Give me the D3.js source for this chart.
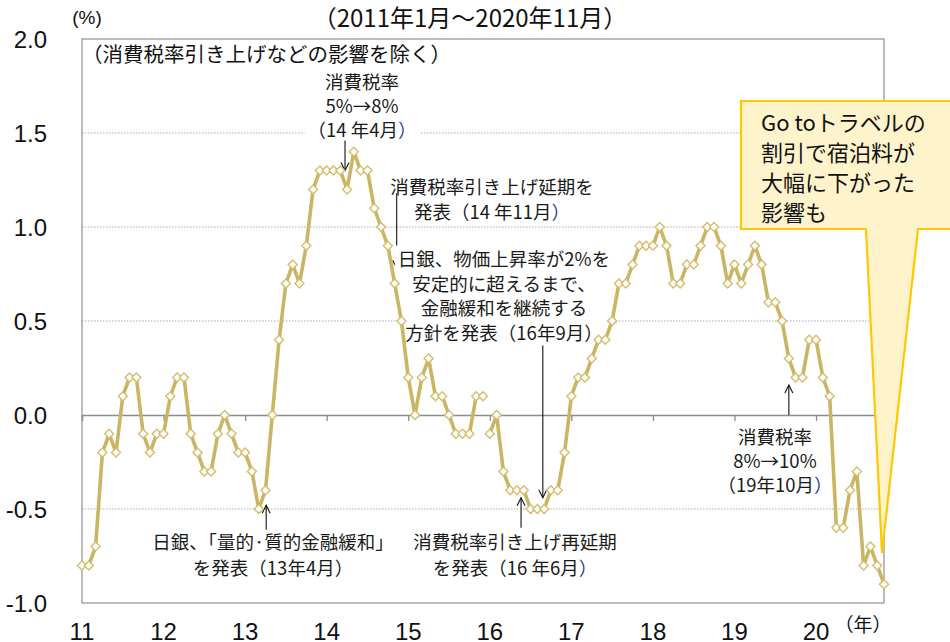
<!DOCTYPE html>
<html>
<head>
<meta charset="utf-8">
<script src="https://cdn.jsdelivr.net/npm/d3@7"></script>
<style>
  html, body { margin: 0; padding: 0; background: #fff; }
  svg { display: block; }
</style>
</head>
<body>
<svg id="chart"></svg>
<script>
// 消費者物価（生鮮食品を除く総合）前年比、2011年1月～2020年11月
const startYear = 2011;
const values2011 = [-0.8, -0.8, -0.7, -0.2, -0.1, -0.2, 0.1, 0.2, 0.2, -0.1, -0.2, -0.1];
const values2012 = [-0.1, 0.1, 0.2, 0.2, -0.1, -0.2, -0.3, -0.3, -0.1, 0.0, -0.1, -0.2];
const values2013 = [-0.2, -0.3, -0.5, -0.4, 0.0, 0.4, 0.7, 0.8, 0.7, 0.9, 1.2, 1.3];
const values2014 = [1.3, 1.3, 1.3, 1.2, 1.4, 1.3, 1.3, 1.1, 1.0, 0.9, 0.7, 0.5];
const values2015 = [0.2, 0.0, 0.2, 0.3, 0.1, 0.1, 0.0, -0.1, -0.1, -0.1, 0.1, 0.1];
const values2016 = [-0.1, 0.0, -0.3, -0.4, -0.4, -0.4, -0.5, -0.5, -0.5, -0.4, -0.4, -0.2];
const values2017 = [0.1, 0.2, 0.2, 0.3, 0.4, 0.4, 0.5, 0.7, 0.7, 0.8, 0.9, 0.9];
const values2018 = [0.9, 1.0, 0.9, 0.7, 0.7, 0.8, 0.8, 0.9, 1.0, 1.0, 0.9, 0.7];
const values2019 = [0.8, 0.7, 0.8, 0.9, 0.8, 0.6, 0.6, 0.5, 0.3, 0.2, 0.2, 0.4];
const values2020 = [0.4, 0.2, 0.1, -0.6, -0.6, -0.4, -0.3, -0.8, -0.7, -0.8, -0.9];

// 2015年基準への改定で、15年12月と16年1月の間は線をつながない
const segmentStarts = [2011, 2016];

const yearLabels = ['11', '12', '13', '14', '15', '16', '17', '18', '19', '20'];
const yTicks = [2.0, 1.5, 1.0, 0.5, 0.0, -0.5, -1.0];

const titleText = '（2011年1月～2020年11月）';
const noteText = '（消費税率引き上げなどの影響を除く）';
const calloutLines = ['Go toトラベルの', '割引で宿泊料が', '大幅に下がった', '影響も'];

const allYears = [values2011, values2012, values2013, values2014, values2015,
  values2016, values2017, values2018, values2019, values2020];

const width = 950;
const height = 642;
const margin = { top: 39, right: 66, bottom: 39, left: 82 };

const svg = d3.select('#chart')
    .attr('width', width)
    .attr('height', height)
    .attr('viewBox', `0 0 ${width} ${height}`);

const data = [];
allYears.forEach((vals, yi) => {
  vals.forEach((v, m) => {
    data.push({ i: yi * 12 + m, year: startYear + yi, month: m + 1, value: v });
  });
});

const x = d3.scaleLinear()
    .domain([0, data.length - 1])
    .range([margin.left, 884]);

const y = d3.scaleLinear()
    .domain([-1.0, 2.0])
    .range([height - margin.bottom, margin.top]);

const cjk = '"Noto Sans CJK JP", "Noto Sans", sans-serif';
const num = '"Liberation Sans", Arial, sans-serif';
const gridColor = '#ababab';
const lineColor = '#cbb462';

// gridlines
svg.append('g')
  .selectAll('line')
  .data(yTicks.filter(t => t !== 0 && t !== 2.0 && t !== -1.0))
  .join('line')
    .attr('x1', x.range()[0])
    .attr('x2', x.range()[1])
    .attr('y1', d => y(d))
    .attr('y2', d => y(d))
    .attr('stroke', gridColor)
    .attr('stroke-width', 1)
    .attr('stroke-dasharray', '1.5,1.5');

// frame
svg.append('rect')
    .attr('x', x.range()[0])
    .attr('y', y(2.0))
    .attr('width', x.range()[1] - x.range()[0])
    .attr('height', y(-1.0) - y(2.0))
    .attr('fill', 'none')
    .attr('stroke', '#999')
    .attr('stroke-width', 1.3);

// zero line with year ticks
const xAxis = d3.axisBottom(x)
    .tickValues(d3.range(0, data.length, 12))
    .tickSize(6)
    .tickFormat('');

svg.append('g')
    .attr('transform', `translate(0,${y(0)})`)
    .call(xAxis)
    .call(g => g.selectAll('path, line').attr('stroke', '#8c8c8c').attr('stroke-width', 1.3));

// y labels
svg.append('g')
  .selectAll('text')
  .data(yTicks)
  .join('text')
    .attr('x', 47)
    .attr('y', d => y(d))
    .attr('dy', '0.36em')
    .attr('text-anchor', 'end')
    .attr('font-family', num)
    .attr('font-size', 24)
    .attr('fill', '#111')
    .text(d => d.toFixed(1));

// x labels
svg.append('g')
  .selectAll('text')
  .data(yearLabels)
  .join('text')
    .attr('x', (d, k) => x(k * 12))
    .attr('y', 640)
    .attr('text-anchor', 'middle')
    .attr('font-family', num)
    .attr('font-size', 24)
    .attr('fill', '#111')
    .text(d => d);

svg.append('text')
    .attr('x', 863)
    .attr('y', 632)
    .attr('text-anchor', 'middle')
    .attr('font-family', cjk)
    .attr('font-size', 19)
    .attr('fill', '#111')
    .text('（年）');

svg.append('text')
    .attr('x', 87)
    .attr('y', 24)
    .attr('text-anchor', 'middle')
    .attr('font-family', num)
    .attr('font-size', 19)
    .attr('fill', '#111')
    .text('(%)');

svg.append('text')
    .attr('x', 470)
    .attr('y', 27)
    .attr('text-anchor', 'middle')
    .attr('font-family', cjk)
    .attr('font-size', 24)
    .attr('fill', '#111')
    .text(titleText);

svg.append('text')
    .attr('x', 82)
    .attr('y', 62)
    .attr('font-family', cjk)
    .attr('font-size', 20.5)
    .attr('fill', '#111')
    .text(noteText);

// annotations: text lines, centre position, arrow at month index between two values
const notes = [
  { lines: ['消費税率', '5%→8%', '（14 年4月|）'], cx: 362, top: 83, gap: 24,
    arrow: { i: 38.7, from: 1.46, to: 1.30 }, bg: [2] },
  { lines: ['消費税率引き上げ延期を', '発表（14 年11月|）'], cx: 492, top: 188, gap: 25,
    arrow: { i: 46.3, from: 1.18, to: 0.78 }, bg: [] },
  { lines: ['日銀、物価上昇率が2%を', '安定的に超えるまで、', '金融緩和を継続する', '方針を発表（16年9月）'],
    cx: 504, top: 260, gap: 24.5, arrow: { i: 67.8, from: 0.37, to: -0.44 }, bg: [0, 1, 2, 3] },
  { lines: ['日銀、「量的·質的金融緩和」', 'を発表（13年4月）'], cx: 273, top: 543, gap: 26,
    arrow: { i: 27.1, from: -0.61, to: -0.48 }, bg: [] },
  { lines: ['消費税率引き上げ再延期', 'を発表（16 年6月|）'], cx: 515, top: 543, gap: 26,
    arrow: { i: 64.6, from: -0.60, to: -0.44 }, bg: [] },
  { lines: ['消費税率', '8%→10%', '（19年10月|）'], cx: 775, top: 438, gap: 24,
    arrow: { i: 104, from: 0.0, to: 0.16 }, bg: [] }
];

const noteLayer = svg.append('g');

notes.forEach(n => {
  const g = noteLayer.append('g');
  const bgRects = g.append('g');
  n.lines.forEach((line, k) => {
    const t = g.append('text')
        .attr('x', n.cx)
        .attr('y', n.top + k * n.gap)
        .attr('dy', '0.35em')
        .attr('text-anchor', 'middle')
        .attr('font-family', cjk)
        .attr('font-size', 18.5)
        .attr('fill', '#1a1a1a');
    const parts = line.split('|');
    t.append('tspan').text(parts[0]);
    if (parts.length > 1) t.append('tspan').attr('fill', '#1f3f99').text(parts[1]);
    if (n.bg.includes(k)) {
      const b = t.node().getBBox();
      bgRects.append('rect')
          .attr('x', b.x - 3)
          .attr('y', b.y)
          .attr('width', b.width + 6)
          .attr('height', b.height + 1)
          .attr('fill', '#fff');
    }
  });

  const ax = x(n.arrow.i);
  const y0 = y(n.arrow.from);
  const y1 = y(n.arrow.to);
  const dir = y1 > y0 ? 1 : -1;
  g.append('line')
      .attr('x1', ax).attr('x2', ax)
      .attr('y1', y0).attr('y2', y1)
      .attr('stroke', '#111')
      .attr('stroke-width', 1.1);
  g.append('path')
      .attr('d', `M${ax - 4},${y1 - dir * 8}L${ax},${y1}L${ax + 4},${y1 - dir * 8}`)
      .attr('fill', 'none')
      .attr('stroke', '#111')
      .attr('stroke-width', 1.1);
});

// series
const line = d3.line()
    .x(d => x(d.i))
    .y(d => y(d.value));

const segments = segmentStarts.map((yr, k) => {
  const end = segmentStarts[k + 1] || Infinity;
  return data.filter(d => d.year >= yr && d.year < end);
});

svg.append('g')
  .selectAll('path')
  .data(segments)
  .join('path')
    .attr('d', line)
    .attr('fill', 'none')
    .attr('stroke', lineColor)
    .attr('stroke-width', 3.6)
    .attr('stroke-linejoin', 'round');

const diamond = d3.symbol().type(d3.symbolDiamond2).size(52);

svg.append('g')
  .selectAll('path')
  .data(data)
  .join('path')
    .attr('transform', d => `translate(${x(d.i)},${y(d.value)})`)
    .attr('d', diamond)
    .attr('fill', '#fff')
    .attr('stroke', '#d4bd6c')
    .attr('stroke-width', 1.4);

// callout
const callout = svg.append('g');
callout.append('path')
    .attr('d', 'M741,101H960V229H918L882,553L866,229H741Z')
    .attr('fill', '#fff3cc')
    .attr('stroke', '#ffc800')
    .attr('stroke-width', 2.2)
    .attr('stroke-linejoin', 'miter');

callout.selectAll('text')
  .data(calloutLines)
  .join('text')
    .attr('x', 761)
    .attr('y', (d, k) => 123 + k * 30)
    .attr('dy', '0.35em')
    .attr('font-family', cjk)
    .attr('font-size', 22)
    .attr('fill', '#111')
    .text(d => d);
</script>
</body>
</html>
